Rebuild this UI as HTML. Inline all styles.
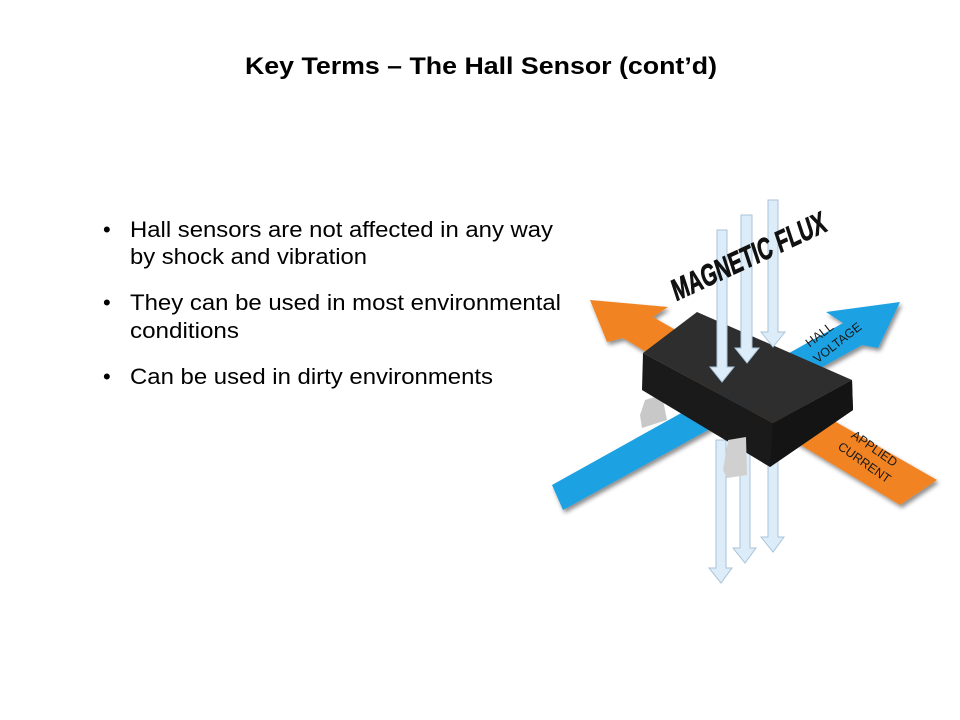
<!DOCTYPE html>
<html><head><meta charset="utf-8"><style>
html,body{margin:0;padding:0;background:#fff;}
svg{display:block;}
</style></head><body>
<svg width="960" height="720" viewBox="0 0 960 720" xmlns="http://www.w3.org/2000/svg" font-family="Liberation Sans, Arial, sans-serif">
<rect width="960" height="720" fill="#fff"/>
<text x="245" y="74" textLength="472" lengthAdjust="spacingAndGlyphs" font-size="24" font-weight="bold" fill="#000">Key Terms – The Hall Sensor (cont’d)</text>
<g font-size="22" fill="#000">
<text x="103" y="237">•</text><text x="130" y="237" textLength="423" lengthAdjust="spacingAndGlyphs">Hall sensors are not affected in any way</text>
<text x="130" y="264" textLength="237" lengthAdjust="spacingAndGlyphs">by shock and vibration</text>
<text x="103" y="310">•</text><text x="130" y="310" textLength="431" lengthAdjust="spacingAndGlyphs">They can be used in most environmental</text>
<text x="130" y="338" textLength="109" lengthAdjust="spacingAndGlyphs">conditions</text>
<text x="103" y="384">•</text><text x="130" y="384" textLength="363" lengthAdjust="spacingAndGlyphs">Can be used in dirty environments</text>
</g>
<defs><filter id="sh" x="-10%" y="-10%" width="130%" height="130%"><feDropShadow dx="2" dy="3" stdDeviation="2" flood-color="#000" flood-opacity="0.45"/></filter></defs>
<polygon filter="url(#sh)" fill="#f28322" points="590,300 668,307 653,317 937,480 900,505 623,338 607,342"/>
<polygon fill="#c8c8c8" points="645,400 662,395 667,420 642,428 640,415"/>
<polygon filter="url(#sh)" fill="#1ba1e2" points="552,485 843,323 826,312 900,302 878,348 862,345 563,510"/>
<g fill="#dcecf8" stroke="#a9c3d8" stroke-width="1">
<polygon points="716,440 726,440 726,568 732,568 721,583 709,568 716,568"/>
<polygon points="740,440 750,440 750,548 756,548 745,563 733,548 740,548"/>
<polygon points="768,430 778,430 778,537 784,537 773,552 761,537 768,537"/>
</g>
<polygon fill="#1a1a1a" points="643,353 773,423 852,380 853,410 770,467 642,390"/>
<polygon fill="#141414" points="773,423 852,380 853,410 770,467"/>
<polygon fill="#2e2e2e" points="643,353 697,312 852,380 773,423"/>
<polygon fill="#d0d0d0" points="728,440 746,437 747,475 727,478 723,470"/>
<g fill="#dcecf8" stroke="#a9c3d8" stroke-width="1">
<polygon points="717,230 727,230 727,367 734,367 722,382 710,367 717,367"/>
<polygon points="741,215 752,215 752,348 759,348 747,363 735,348 741,348"/>
<polygon points="768,200 778,200 778,332 785,332 773,347 761,332 768,332"/>
</g>
<text transform="translate(752,266) rotate(-25) scale(0.68,1) skewX(-10)" text-anchor="middle" font-size="30" font-weight="bold" fill="#111" stroke="#111" stroke-width="0.8">MAGNETIC FLUX</text>
<text transform="translate(822,338) rotate(-38)" text-anchor="middle" font-size="12.5" fill="#1a1a1a">HALL</text>
<text transform="translate(840,346) rotate(-38)" text-anchor="middle" font-size="12.5" fill="#1a1a1a">VOLTAGE</text>
<text transform="translate(872,452) rotate(35)" text-anchor="middle" font-size="12.5" fill="#1a1a1a">APPLIED</text>
<text transform="translate(862,466) rotate(35)" text-anchor="middle" font-size="12.5" fill="#1a1a1a">CURRENT</text>
</svg>
</body></html>
